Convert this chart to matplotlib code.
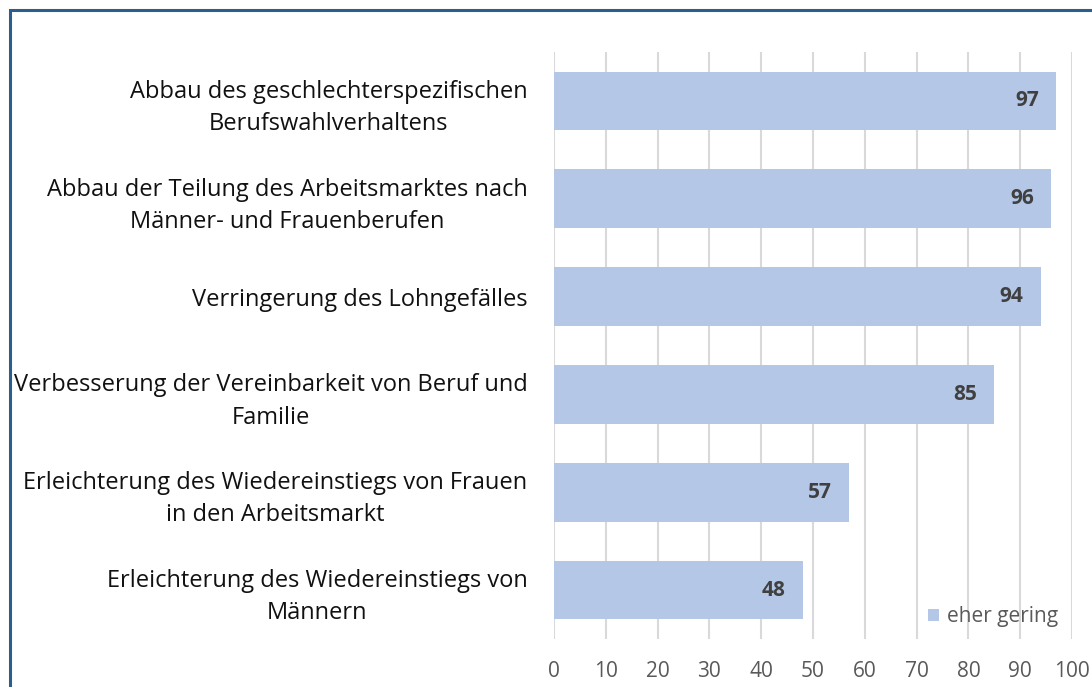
import matplotlib
matplotlib.use('Agg')
import matplotlib.pyplot as plt
from matplotlib.patches import Rectangle

plt.rcParams['font.family'] = ['Open Sans', 'DejaVu Sans']

# Daten
categories = ['Abbau des geschlechterspezifischen\nBerufswahlverhaltens',
              'Abbau der Teilung des Arbeitsmarktes nach\nMänner- und Frauenberufen',
              'Verringerung des Lohngefälles',
              'Verbesserung der Vereinbarkeit von Beruf und\nFamilie',
              'Erleichterung des Wiedereinstiegs von Frauen\nin den Arbeitsmarkt',
              'Erleichterung des Wiedereinstiegs von\nMännern']
values = [97, 96, 94, 85, 57, 48]
xticks = [0, 10, 20, 30, 40, 50, 60, 70, 80, 90, 100]
series_name = 'eher gering'

bar_color = '#B4C7E7'
txt_gray = '#595959'

fig = plt.figure(figsize=(10.92, 6.87), dpi=100)
ax = fig.add_axes([0.5073, 0.0699, 0.4744, 0.8544])

ypos = list(range(len(categories)))[::-1]
bars = ax.barh(ypos, values, height=0.6, color=bar_color, label=series_name, zorder=3)

for y, v in zip(ypos, values):
    ax.text(v - 3.4, y, str(v), ha='right', va='center', fontsize=15,
            fontweight='bold', color='#404040', zorder=4)

ax.set_xlim(0, 100)
ax.set_ylim(-0.5, len(categories) - 0.5)
ax.set_xticks(xticks)
ax.set_xticklabels([str(t) for t in xticks], color=txt_gray, fontsize=15)
ax.tick_params(axis='x', length=0, pad=16)
ax.set_yticks(ypos)
ax.set_yticklabels(categories, fontsize=17, color='#111111', multialignment='center',
                   linespacing=1.45)
ax.tick_params(axis='y', length=0, pad=19)
ax.xaxis.grid(True, color='#D9D9D9', linewidth=1.5, zorder=0)
for s in ax.spines.values():
    s.set_visible(False)

leg = ax.legend(loc='lower right', bbox_to_anchor=(1.01, -0.012), frameon=False,
                fontsize=15, handlelength=0.55, handleheight=0.55, handletextpad=0.4)
for t in leg.get_texts():
    t.set_color(txt_gray)

# Rahmen
fig.patches.append(Rectangle((10 / 1092, -0.1), 1.2, 1 - 10 / 687 + 0.1,
                             transform=fig.transFigure, fill=False,
                             edgecolor='#2E5D8C', linewidth=2.2))

fig.savefig('out.png', dpi=100)
